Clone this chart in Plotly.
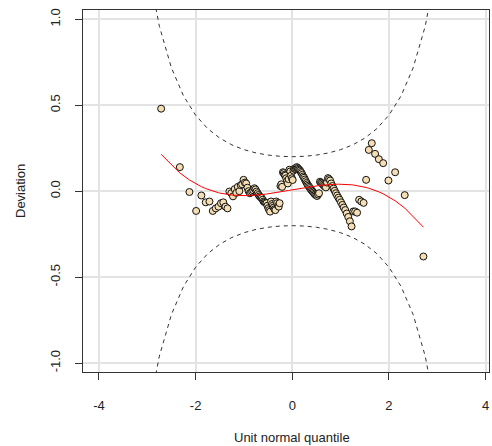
import numpy as np
import plotly.graph_objects as go
from statistics import NormalDist

# Deviations (worm plot), ordered by rank of the residuals
deviation = [
    0.48, 0.14, -0.005, -0.115, -0.025, -0.065, -0.06, -0.115, -0.10, -0.09,
    -0.07, -0.065, -0.09, -0.10, -0.002, -0.012, -0.03, 0.012, -0.01, 0.025,
    0.0, 0.035, 0.04, 0.066, 0.05, 0.045, 0.02, 0.0, -0.012, -0.008,
    -0.002, 0.005, 0.017, 0.01, -0.002, -0.012, -0.022, -0.03, -0.035, -0.04,
    -0.05, -0.06, -0.063, -0.067, -0.07, -0.085, -0.099, -0.11, -0.119, -0.06,
    -0.075, -0.085, -0.095, -0.105, -0.11, -0.06, -0.07, -0.085, -0.09, -0.07,
    0.03, 0.04, 0.025, 0.11, 0.105, 0.095, 0.09, 0.075, 0.06, 0.045,
    0.07, 0.125, 0.115, 0.09, 0.075, 0.065, 0.12, 0.13, 0.13, 0.135,
    0.14, 0.135, 0.13, 0.125, 0.12, 0.112, 0.105, 0.095, 0.085, 0.078,
    0.068, 0.058, 0.048, 0.04, 0.032, 0.025, 0.018, 0.01, 0.004, -0.002,
    -0.008, -0.015, -0.02, -0.025, -0.028, -0.02, -0.012, 0.055, 0.05, 0.045,
    0.038, 0.032, 0.027, 0.022, 0.05, 0.076, 0.07, 0.062, 0.045, 0.03,
    0.015, 0.002, -0.012, -0.025, -0.038, -0.05, -0.065, -0.08, -0.095, -0.11,
    -0.13, -0.15, -0.175, -0.205, -0.118, -0.118, -0.125, -0.05, -0.06, -0.068,
    0.066, 0.24, 0.279, 0.217, 0.186, 0.163, 0.062, 0.11, -0.023, -0.38,
]
n = len(deviation)
nd = NormalDist()
# unit normal quantiles of the ranks (ppoints)
quantile = [nd.inv_cdf((i + 0.5) / n) for i in range(n)]

# cubic fit (as in the worm plot)
coef = np.polyfit(quantile, deviation, 3)
fitted = np.polyval(coef, quantile)

# 95% pointwise confidence band
z = np.arange(-4, 4.0001, 0.25)
p = np.array([nd.cdf(v) for v in z])
se = (1 / np.array([nd.pdf(v) for v in z])) * np.sqrt(p * (1 - p) / n)
low = nd.inv_cdf(0.025) * se
high = -low

x_ticks = [-4, -2, 0, 2, 4]
y_ticks = [-1.0, -0.5, 0.0, 0.5, 1.0]
y_ticklabels = ["-1.0", "-0.5", "0.0", "0.5", "1.0"]

FONT = "Liberation Sans, Arial, sans-serif"
fig = go.Figure()
fig.add_trace(go.Scatter(x=z, y=high, mode="lines",
                         line=dict(color="#333333", width=1, dash="4px,4px"),
                         hoverinfo="skip"))
fig.add_trace(go.Scatter(x=z, y=low, mode="lines",
                         line=dict(color="#333333", width=1, dash="4px,4px"),
                         hoverinfo="skip"))
fig.add_trace(go.Scatter(x=quantile, y=deviation, mode="markers",
                         marker=dict(size=7, color="#F5DEB3",
                                     line=dict(color="#111111", width=1))))
fig.add_trace(go.Scatter(x=quantile, y=fitted, mode="lines",
                         line=dict(color="#FF0000", width=1)))

fig.add_shape(type="line", xref="paper", x0=0, x1=1, yref="y", y0=0, y1=0,
              line=dict(color="#333333", width=1, dash="4px,4px"), layer="below")
fig.add_shape(type="line", xref="x", x0=0, x1=0, yref="paper", y0=0, y1=1,
              line=dict(color="#FF0000", width=1, dash="4px,4px"), layer="below")

fig.update_layout(
    width=492, height=446,
    margin=dict(l=83, r=3, t=10, b=74),
    paper_bgcolor="white", plot_bgcolor="white",
    showlegend=False,
    font=dict(family=FONT, size=13, color="#222222"),
    xaxis=dict(range=[-4.33, 4.07], tickvals=x_ticks, ticktext=[str(v) for v in x_ticks],
               showgrid=True, gridcolor="#E3E3E3", gridwidth=1.5,
               zeroline=False, showline=True, linecolor="#333333", linewidth=1,
               mirror=True, ticks="outside", ticklen=7, tickcolor="#333333",
               ticklabelstandoff=14),
    yaxis=dict(range=[-1.052, 1.054], tickvals=y_ticks, ticktext=y_ticklabels,
               tickangle=-90,
               showgrid=True, gridcolor="#E3E3E3", gridwidth=1.5,
               zeroline=False, showline=True, linecolor="#333333", linewidth=1,
               mirror=True, ticks="outside", ticklen=7, tickcolor="#333333",
               ticklabelstandoff=10),
    annotations=[
        dict(text="Unit normal quantile", xref="paper", yref="paper",
             x=(292.3 - 83) / 406, y=-(437 - 372) / 362, showarrow=False,
             xanchor="center", yanchor="middle", font=dict(size=13, family=FONT)),
        dict(text="Deviation", xref="paper", yref="paper",
             x=-(83 - 20) / 406, y=(372 - 191) / 362, showarrow=False, textangle=-90,
             xanchor="center", yanchor="middle", font=dict(size=13, family=FONT)),
    ],
)
fig.write_html("out.html", config={"displayModeBar": False},
               post_script="document.body.style.margin='0';document.body.style.overflow='hidden';")
